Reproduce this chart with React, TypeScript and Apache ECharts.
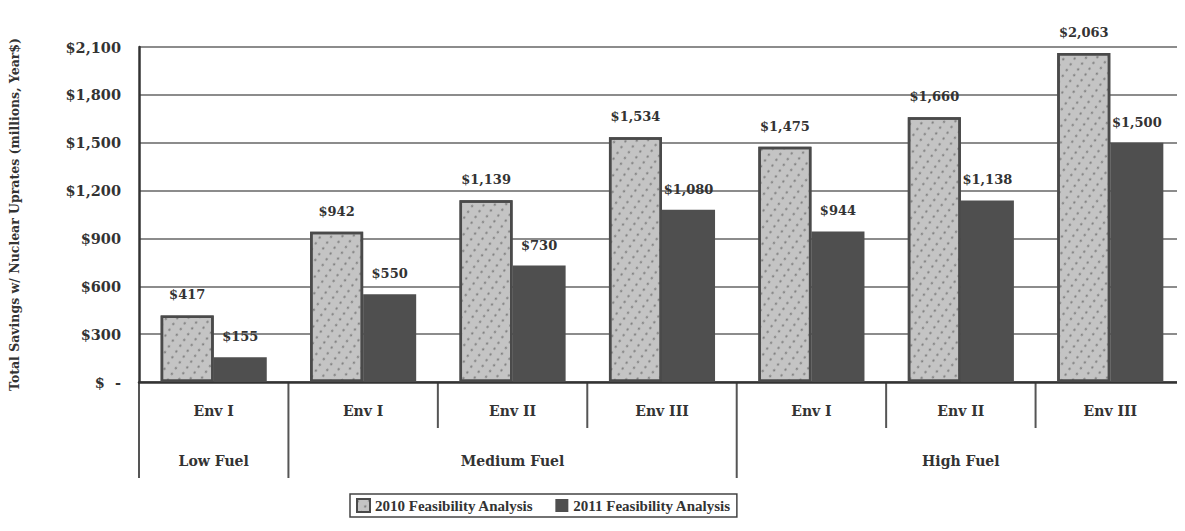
import React, { useEffect, useRef } from "react";
import * as echarts from "echarts";

const categories = ["Env I", "Env I", "Env II", "Env III", "Env I", "Env II", "Env III"];
const groupNames = ["Low Fuel", "Medium Fuel", "High Fuel"];
const groupSizes = [1, 3, 3];
const fy2010 = [417, 942, 1139, 1534, 1475, 1660, 2063];
const fy2011 = [155, 550, 730, 1080, 944, 1138, 1500];
const seriesNames = ["2010 Feasibility Analysis", "2011 Feasibility Analysis"];
const yMin = 0;
const yMax = 2100;
const yInterval = 300;
const yTitle = "Total Savings w/ Nuclear Uprates (millions, Year$)";

const FONT = "'DejaVu Serif', 'Liberation Serif', serif";
const LFONT = "'Liberation Serif', 'Times New Roman', serif";
const TXT = "#333333";

const money = (v: number) => (v === 0 ? "$  -" : "$" + v.toLocaleString("en-US"));

export default function App() {
  const ref = useRef<HTMLDivElement>(null);
  useEffect(() => {
    if (!ref.current) return;
    const chart = echarts.init(ref.current, undefined, { renderer: "svg" });

    const groupLabels: string[] = categories.map(() => "");
    let start = 0;
    groupNames.forEach((g, i) => {
      groupLabels[start + Math.floor(groupSizes[i] / 2)] = g;
      start += groupSizes[i];
    });

    const barLabel = {
      show: true,
      position: "top",
      distance: 14,
      formatter: (p: any) => money(p.value),
      fontFamily: FONT,
      fontWeight: "bold",
      fontSize: 13,
      color: TXT,
    };

    chart.setOption({
      animation: false,
      backgroundColor: "#ffffff",
      textStyle: { fontFamily: FONT },
      grid: { left: 136, right: 0, top: 47, bottom: 149, containLabel: false },
      legend: {
        left: 350,
        top: 494,
        data: seriesNames,
        icon: "rect",
        itemWidth: 13,
        itemHeight: 13,
        itemGap: 22,
        borderColor: "#444",
        borderWidth: 1.5,
        padding: [4, 6, 4, 6],
        textStyle: { fontFamily: LFONT, fontWeight: "bold", fontSize: 15, color: TXT },
      },
      xAxis: [
        {
          type: "category",
          data: categories,
          position: "bottom",
          axisLine: { show: true, lineStyle: { color: "#333", width: 2.5 } },
          axisTick: { show: false },
          axisLabel: {
            interval: 0,
            margin: 22,
            fontFamily: FONT,
            fontWeight: "bold",
            fontSize: 14,
            color: TXT,
          },
        },
        {
          type: "category",
          data: groupLabels,
          position: "bottom",
          axisLine: { show: false },
          axisTick: { show: false },
          axisLabel: {
            interval: 0,
            margin: 72,
            fontFamily: FONT,
            fontWeight: "bold",
            fontSize: 14,
            color: TXT,
          },
        },
      ],
      yAxis: {
        type: "value",
        min: yMin,
        max: yMax,
        interval: yInterval,
        name: yTitle,
        nameLocation: "middle",
        nameGap: 118,
        nameTextStyle: { fontFamily: FONT, fontWeight: "bold", fontSize: 12.5, color: TXT },
        axisLine: { show: true, lineStyle: { color: "#333", width: 2.5 } },
        axisTick: { show: false },
        axisLabel: {
          formatter: money,
          margin: 18,
          fontFamily: FONT,
          fontWeight: "bold",
          fontSize: 14.5,
          color: TXT,
        },
        splitLine: { show: true, lineStyle: { color: "#666", width: 1.5 } },
      },
      series: [
        {
          name: seriesNames[0],
          type: "bar",
          data: fy2010,
          barGap: "0%",
          barCategoryGap: "29%",
          itemStyle: {
            color: "#c4c4c4",
            borderColor: "#4a4a4a",
            borderWidth: 2.5,
            decal: {
              symbol: "circle",
              symbolSize: 0.8,
              color: "rgba(60,60,60,0.5)",
              dashArrayX: [[4, 5]],
              dashArrayY: [3, 4],
              rotation: 0.6,
            },
          },
          label: barLabel,
        },
        {
          name: seriesNames[1],
          type: "bar",
          data: fy2011,
          itemStyle: { color: "#4f4f4f" },
          label: barLabel,
        },
      ],
    });

    // separators of the category table under the plot
    const c0 = chart.convertToPixel({ xAxisIndex: 0 }, 0) as number;
    const c1 = chart.convertToPixel({ xAxisIndex: 0 }, 1) as number;
    const step = c1 - c0;
    const yBase = chart.convertToPixel({ yAxisIndex: 0 }, 0) as number;
    const groupStarts: number[] = [];
    let s = 0;
    groupSizes.forEach((g) => {
      groupStarts.push(s);
      s += g;
    });
    const lines: any[] = [];
    for (let i = 0; i < categories.length; i++) {
      const x = c0 - step / 2 + i * step;
      const isGroup = groupStarts.includes(i);
      lines.push({
        type: "line",
        shape: { x1: x, y1: yBase, x2: x, y2: yBase + (isGroup ? 96 : 46) },
        style: { stroke: "#555", lineWidth: 2 },
      });
    }
    chart.setOption({ graphic: lines });

    return () => chart.dispose();
  }, []);
  return <div ref={ref} style={{ width: 1185, height: 531, marginLeft: -8, marginTop: -8 }} />;
}
